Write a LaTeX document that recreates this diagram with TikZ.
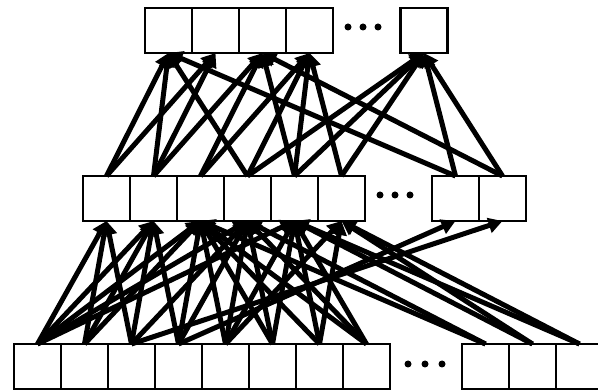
\documentclass[tikz,border=0pt]{standalone}
\usetikzlibrary{arrows.meta}
\begin{document}
\begin{tikzpicture}[x=1pt,y=-1pt,
  cell/.style={draw, line width=2.2pt, minimum width=47pt, minimum height=45pt, inner sep=0pt, outer sep=0pt},
  conn/.style={line width=5pt, -{Triangle[length=14pt,width=15pt]}},
  dotmark/.style={circle, fill, inner sep=0pt, minimum size=7pt}]
\useasboundingbox (0,0) rectangle (598,390);
\clip (0,0) rectangle (598,390);
% top row
\foreach \i/\x in {0/168.5,1/215.5,2/262.5,3/309.5} \node[cell] (t\i) at (\x,30.5) {};
\node[cell] (tx) at (424,30.5) {};
\foreach \i/\x in {1/348,2/363,3/378} \node[dotmark] (td\i) at (\x,27) {};
% middle row
\foreach \i/\x in {0/106.5,1/153.5,2/200.5,3/247.5,4/294.5,5/341.5} \node[cell] (m\i) at (\x,198.5) {};
\node[cell] (mx0) at (455.5,198.5) {};
\node[cell] (mx1) at (502.5,198.5) {};
\foreach \i/\x in {1/380,2/395,3/410} \node[dotmark] (md\i) at (\x,195) {};
% bottom row
\foreach \i/\x in {0/37.5,1/84.5,2/131.5,3/178.5,4/225.5,5/272.5,6/319.5,7/366.5} \node[cell] (b\i) at (\x,366.5) {};
\node[cell] (bx0) at (485.5,366.5) {};
\node[cell] (bx1) at (532.5,366.5) {};
\node[cell] (bx2) at (579.5,366.5) {};
\foreach \i/\x in {1/408,2/425,3/442} \node[dotmark] (bd\i) at (\x,364) {};
% middle -> top
\foreach \s/\t in {m0/t0,m0/t1,m1/t0,m1/t1,m1/t2,m2/t2,m2/t3,m3/t0,m3/t3,m3/tx,m4/t2,m4/t3,m4/tx,m5/t3,m5/tx,mx0/tx,mx0/t0,mx1/tx,mx1/t2}
  \draw[conn] (\s.north) -- (\t.south);
% bottom -> middle
\foreach \s/\t in {b0/m0,b0/m1,b0/m2,b0/m3,b0/m4,b1/m0,b1/m1,b1/m2,b2/m0,b2/m1,b2/m3,b2/mx1,b3/m1,b3/m2,b3/m3,b3/mx0,b4/m2,b4/m3,b4/m4,b4/m5,b5/m2,b5/m3,b5/m4,b6/m2,b6/m4,b6/m5,b7/m2,b7/m3,b7/m4,bx0/m2,bx0/m3,bx1/m4,bx1/m5,bx2/m4,bx2/m5}
  \draw[conn] (\s.north) -- (\t.south);
\end{tikzpicture}
\end{document}
